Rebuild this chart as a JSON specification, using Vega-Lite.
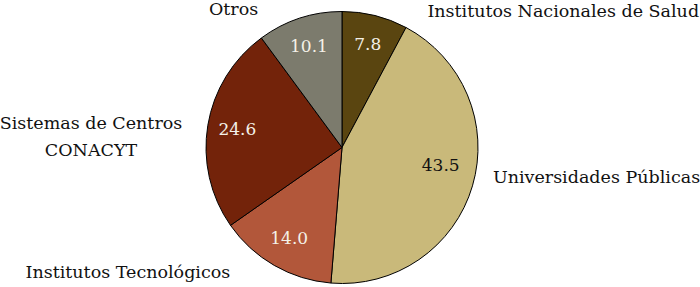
{
  "$schema": "https://vega.github.io/schema/vega-lite/v6.json",
  "autosize": {"type": "none"},
  "width": 684,
  "height": 279,
  "padding": {"left": 0, "top": 8, "right": 16, "bottom": 0},
  "background": "white",
  "config": {"view": {"stroke": null}, "text": {"font": "DejaVu Serif", "fontSize": 17.5}},
  "data": {"values": [
    {"categoria": "Institutos Nacionales de Salud", "etiqueta": "Institutos Nacionales de Salud", "valor": 7.8, "orden": 1},
    {"categoria": "Universidades Públicas", "etiqueta": "Universidades Públicas", "valor": 43.5, "orden": 2},
    {"categoria": "Institutos Tecnológicos", "etiqueta": "Institutos Tecnológicos", "valor": 14.0, "orden": 3},
    {"categoria": "Sistemas de Centros CONACYT", "etiqueta": "Sistemas de Centros\nCONACYT", "valor": 24.6, "orden": 4},
    {"categoria": "Otros", "etiqueta": "Otros", "valor": 10.1, "orden": 5}
  ]},
  "encoding": {
    "theta": {"field": "valor", "type": "quantitative", "stack": true},
    "order": {"field": "orden", "type": "quantitative"}
  },
  "layer": [
    {
      "mark": {"type": "arc", "outerRadius": 136, "stroke": "black", "strokeWidth": 1},
      "encoding": {
        "color": {
          "field": "categoria", "type": "nominal", "legend": null,
          "scale": {
            "domain": ["Institutos Nacionales de Salud", "Universidades Públicas", "Institutos Tecnológicos", "Sistemas de Centros CONACYT", "Otros"],
            "range": ["#5a4510", "#c9b97a", "#b2573a", "#73230a", "#7c7b6d"]
          }
        }
      }
    },
    {
      "mark": {"type": "text", "radius": 106, "align": "center", "baseline": "middle", "fontSize": 17, "color": "#f4f1e8"},
      "encoding": {
        "text": {"condition": {"test": "datum.orden !== 2", "field": "valor", "format": ".1f"}, "value": ""}
      }
    },
    {
      "mark": {"type": "text", "radius": 106, "align": "center", "baseline": "middle", "fontSize": 17, "dx": -3, "dy": -11, "color": "#111111"},
      "encoding": {
        "text": {"condition": {"test": "datum.orden === 2", "field": "valor", "format": ".1f"}, "value": ""}
      }
    },
    {
      "mark": {"type": "text", "radius": 150, "align": "left", "baseline": "middle", "dx": 49, "dy": 10, "color": "#111111"},
      "encoding": {"text": {"condition": {"test": "datum.orden === 1", "field": "etiqueta"}, "value": ""}}
    },
    {
      "mark": {"type": "text", "radius": 150, "align": "left", "baseline": "middle", "dx": 7, "dy": -12, "color": "#111111"},
      "encoding": {"text": {"condition": {"test": "datum.orden === 2", "field": "etiqueta"}, "value": ""}}
    },
    {
      "mark": {"type": "text", "radius": 150, "align": "right", "baseline": "middle", "dx": -37, "dy": -5, "color": "#111111"},
      "encoding": {"text": {"condition": {"test": "datum.orden === 3", "field": "etiqueta"}, "value": ""}}
    },
    {
      "mark": {"type": "text", "radius": 150, "align": "center", "baseline": "middle", "dx": -103, "dy": 1, "lineBreak": "\n", "lineHeight": 27, "color": "#111111"},
      "encoding": {"text": {"condition": {"test": "datum.orden === 4", "field": "etiqueta"}, "value": ""}}
    },
    {
      "mark": {"type": "text", "radius": 150, "align": "right", "baseline": "middle", "dx": -37, "dy": 5, "color": "#111111"},
      "encoding": {"text": {"condition": {"test": "datum.orden === 5", "field": "etiqueta"}, "value": ""}}
    }
  ]
}
